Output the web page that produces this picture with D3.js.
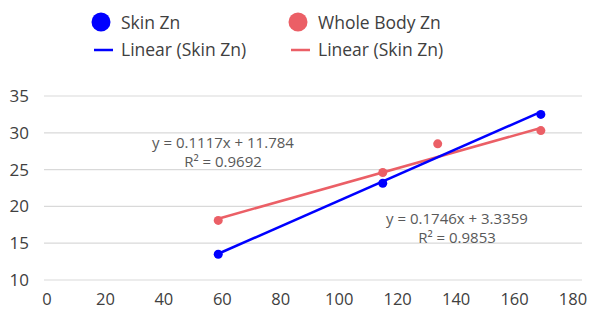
<!DOCTYPE html>
<html>
<head>
<meta charset="utf-8">
<script src="https://cdn.jsdelivr.net/npm/d3@7"></script>
<style>
  body { margin: 0; background: #fff; }
  svg { display: block; }
</style>
</head>
<body>
<div id="chart"></div>
<script>
var TEXTFONT = 'Open Sans';
var WIDTH = 593, HEIGHT = 309;

// data
var skinX = [58.6, 114.9, 169.0];
var skinY = [13.5, 23.15, 32.5];
var bodyX = [58.6, 114.9, 133.7, 169.0];
var bodyY = [18.1, 24.6, 28.5, 30.3];
var trendSlope = [0.1746, 0.1117];
var trendIntercept = [3.3359, 11.784];
var seriesNames = ['Skin Zn', 'Whole Body Zn'];
var trendNames = ['Linear (Skin Zn)', 'Linear (Skin Zn)'];
var eqLabels = [['y = 0.1746x + 3.3359', 'R² = 0.9853'], ['y = 0.1117x + 11.784', 'R² = 0.9692']];
var xTicks = [0, 20, 40, 60, 80, 100, 120, 140, 160, 180];
var yTicks = [10, 15, 20, 25, 30, 35];

var COLORS = ['#0000ff', '#eb5f66'];
var TEXTCOLOR = '#404040';

var svg = d3.select('#chart').append('svg').attr('width', WIDTH).attr('height', HEIGHT)
    .style('font-family', TEXTFONT);

var xScale = d3.scaleLinear().domain([0, 180]).range([47, 573]);
var yScale = d3.scaleLinear().domain([10, 35]).range([280, 96]);

// gridlines
svg.append('g').selectAll('line').data(yTicks).enter().append('line')
    .attr('x1', 44).attr('x2', 582)
    .attr('y1', function (d) { return yScale(d); })
    .attr('y2', function (d) { return yScale(d); })
    .attr('stroke', '#d9d9d9').attr('stroke-width', 1.2);

// y tick labels
svg.append('g').selectAll('text').data(yTicks).enter().append('text')
    .attr('x', 29).attr('y', function (d) { return yScale(d); })
    .attr('dy', '0.35em').attr('text-anchor', 'end')
    .style('font-size', '17px').attr('fill', TEXTCOLOR)
    .text(function (d) { return d; });

// x tick labels
svg.append('g').selectAll('text').data(xTicks).enter().append('text')
    .attr('x', function (d) { return xScale(d); }).attr('y', 304.5)
    .attr('text-anchor', 'middle')
    .style('font-size', '16.5px').attr('fill', TEXTCOLOR)
    .text(function (d) { return d; });

/** Draw one trendline from its equation over the series x range. */
function addTrend(xs, idx) {
    var ext = d3.extent(xs);
    var pts = ext.map(function (x) {
        return { 'x' : x, 'y' : trendSlope[idx] * x + trendIntercept[idx] };
    });
    var line = d3.line().x(function (d) { return xScale(d.x); }).y(function (d) { return yScale(d.y); });
    svg.append('path').datum(pts).attr('d', line)
        .attr('fill', 'none').attr('stroke', COLORS[idx]).attr('stroke-width', 2.5);
};

/** Draw the series points. */
function addPoints(xs, ys, idx) {
    svg.append('g').selectAll('circle').data(xs).enter().append('circle')
        .attr('cx', function (d) { return xScale(d); })
        .attr('cy', function (d, i) { return yScale(ys[i]); })
        .attr('r', 4.5).attr('fill', COLORS[idx]);
};

addTrend(bodyX, 1);
addTrend(skinX, 0);
addPoints(bodyX, bodyY, 1);
addPoints(skinX, skinY, 0);

// equation labels
var eqPos = [[457, 224], [223, 148]];
eqLabels.forEach(function (lines, i) {
    var t = svg.append('text').attr('text-anchor', 'middle')
        .style('font-size', '15px').attr('fill', '#595959');
    lines.forEach(function (s, j) {
        t.append('tspan').attr('x', eqPos[i][0]).attr('y', eqPos[i][1] + j * 18.5).text(s);
    });
});

// legend
var legX = [101, 298];
var leg = svg.append('g');
seriesNames.forEach(function (name, i) {
    leg.append('circle').attr('cx', legX[i]).attr('cy', 22).attr('r', 9.5).attr('fill', COLORS[i]);
    leg.append('text').attr('x', legX[i] + 20).attr('y', 29)
        .style('font-size', '17.5px').attr('fill', TEXTCOLOR).text(name);
    leg.append('line').attr('x1', legX[i] - 7).attr('x2', legX[i] + 12)
        .attr('y1', 50).attr('y2', 50).attr('stroke', COLORS[i]).attr('stroke-width', 2.5);
    leg.append('text').attr('x', legX[i] + 20).attr('y', 56)
        .style('font-size', '17.5px').attr('fill', TEXTCOLOR).text(trendNames[i]);
});
</script>
</body>
</html>
